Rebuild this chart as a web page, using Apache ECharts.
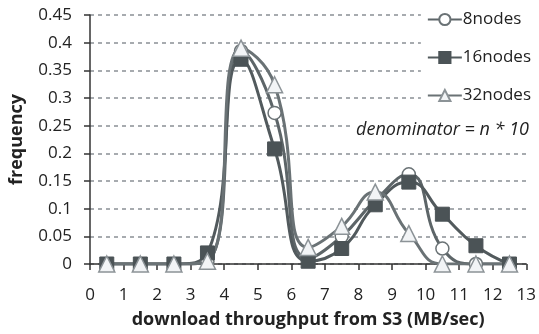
<!DOCTYPE html>
<html>
<head>
<meta charset="utf-8">
<script src="https://cdn.jsdelivr.net/npm/echarts@6/dist/echarts.min.js"></script>
<style>
  html, body { margin: 0; padding: 0; background: #fff; }
  #chart { width: 539px; height: 334px; }
</style>
</head>
<body>
<div id="chart"></div>
<script>
// throughput bins (MB/sec), bar centres
var xs = [0.5, 1.5, 2.5, 3.5, 4.5, 5.5, 6.5, 7.5, 8.5, 9.5, 10.5, 11.5, 12.5];
var nodes8 = [0, 0, 0, 0.005, 0.385, 0.273, 0.01, 0.05, 0.115, 0.162, 0.028, 0, 0];
var nodes16 = [0, 0, 0, 0.02, 0.37, 0.208, 0.005, 0.028, 0.107, 0.148, 0.09, 0.033, 0];
var nodes32 = [0, 0, 0, 0.005, 0.39, 0.324, 0.03, 0.068, 0.13, 0.055, 0, 0, 0];
var names = ['8nodes', '16nodes', '32nodes'];

function pairs(ys) {
  var out = [];
  for (var i = 0; i < xs.length; i++) out.push([xs[i], ys[i]]);
  return out;
}

var font = '"Open Sans", sans-serif';
var lineColor = '#5d6568';

var chart = echarts.init(document.getElementById('chart'));
var option = {
  animation: false,
  textStyle: { fontFamily: font },
  grid: { left: 88, right: 12, top: 15, bottom: 69 },
  legend: {
    data: names,
    orient: 'vertical',
    right: 0,
    top: 7,
    padding: [4, 8, 4, 6],
    backgroundColor: '#fff',
    itemWidth: 34,
    itemHeight: 14,
    itemGap: 21,
    textStyle: { fontSize: 17, color: '#222', fontFamily: font, padding: [0, 0, 0, -4] }
  },
  graphic: [{
    type: 'text',
    right: 7,
    top: 119,
    z: 100,
    style: {
      text: 'denominator = n * 10',
      font: 'italic 18px "Open Sans", sans-serif',
      fill: '#222',
      backgroundColor: '#fff',
      padding: [2, 3, 2, 4]
    }
  }],
  xAxis: {
    type: 'value',
    min: 0, max: 13, interval: 1,
    name: 'download throughput from S3 (MB/sec)',
    nameLocation: 'middle',
    nameGap: 47,
    nameTextStyle: { fontSize: 18, fontWeight: 'bold', color: '#222', fontFamily: font },
    axisLine: { lineStyle: { color: '#333', width: 1.5 } },
    axisTick: { show: true, inside: false, length: 6, lineStyle: { color: '#333', width: 1.5 } },
    axisLabel: { fontSize: 17, color: '#222', margin: 23 },
    splitLine: { show: false }
  },
  yAxis: {
    type: 'value',
    min: 0, max: 0.45, interval: 0.05,
    name: 'frequency',
    nameLocation: 'middle',
    nameGap: 64,
    nameTextStyle: { fontSize: 18, fontWeight: 'bold', color: '#222', fontFamily: font },
    axisLine: { show: true, lineStyle: { color: '#333', width: 1.5 } },
    axisTick: { show: true, length: 6, lineStyle: { color: '#333', width: 1.5 } },
    axisLabel: { fontSize: 17, color: '#222', margin: 18 },
    splitLine: { show: true, lineStyle: { color: '#8a9095', type: [4, 4], width: 1.5 } }
  },
  series: [
    {
      name: names[0], type: 'line', smooth: 0.5, data: pairs(nodes8),
      symbol: 'circle', symbolSize: 13,
      lineStyle: { color: lineColor, width: 3 },
      itemStyle: { color: '#ffffff', borderColor: '#6a7275', borderWidth: 1.5 }
    },
    {
      name: names[1], type: 'line', smooth: 0.5, data: pairs(nodes16),
      symbol: 'rect', symbolSize: 14,
      lineStyle: { color: '#525a5d', width: 3 },
      itemStyle: { color: '#4b5356', borderColor: '#4b5356', borderWidth: 1 }
    },
    {
      name: names[2], type: 'line', smooth: 0.5, data: pairs(nodes32),
      symbol: 'triangle', symbolSize: 16,
      lineStyle: { color: '#6a7275', width: 3 },
      itemStyle: { color: '#f2f4f6', borderColor: '#8c9397', borderWidth: 1.5 }
    }
  ]
};
chart.setOption(option);
</script>
</body>
</html>
